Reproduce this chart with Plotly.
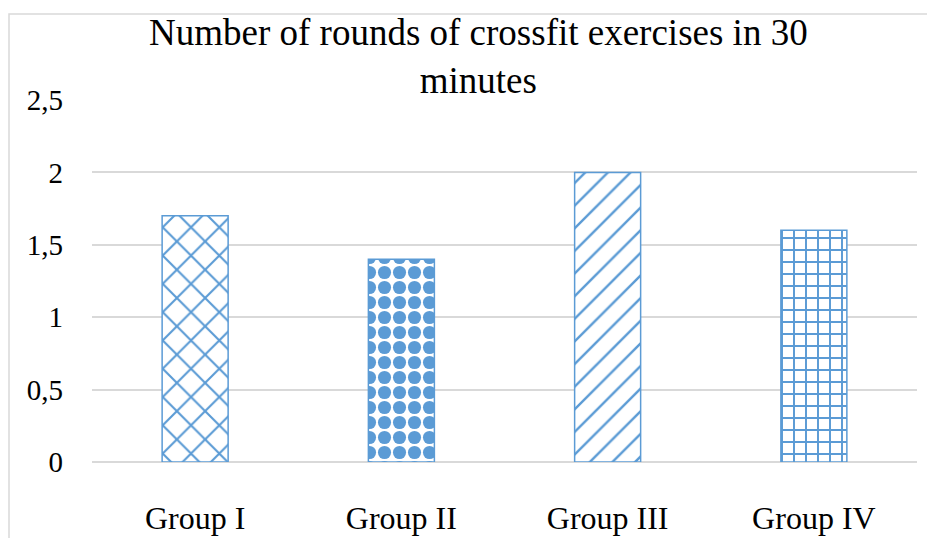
import plotly.graph_objects as go

categories = ["Group I", "Group II", "Group III", "Group IV"]
values = [1.7, 1.4, 2.0, 1.6]
patterns = ["x", ".", "/", "+"]
tick_vals = [0, 0.5, 1, 1.5, 2, 2.5]
tick_text = ["0", "0,5", "1", "1,5", "2", "2,5"]
title_text = "Number of rounds of crossfit exercises in 30<br>minutes"

blue = "#5b9bd5"
font_family = "Liberation Serif, Times New Roman, serif"

fig = go.Figure()
fig.add_trace(go.Bar(
    x=categories,
    y=values,
    width=0.32,
    marker=dict(
        color="white",
        line=dict(color=blue, width=1.5),
        pattern=dict(shape=patterns, fgcolor=blue, bgcolor="white",
                     size=[20, 15, 16, 12], solidity=[0.2, 0.6, 0.15, 0.3],
                     fillmode="replace"),
    ),
))

fig.update_layout(
    width=927, height=530,
    margin=dict(l=84, r=18, t=92, b=76),
    paper_bgcolor="white", plot_bgcolor="white",
    showlegend=False,
    font=dict(family=font_family, color="black"),
    xaxis=dict(
        showgrid=False, showline=False, zeroline=False, automargin=False,
        tickfont=dict(size=32), ticks="", ticklabelstandoff=34,
    ),
    yaxis=dict(
        range=[0, 2.5], tickvals=tick_vals, ticktext=tick_text, automargin=False,
        showgrid=True, gridcolor="#d9d9d9", gridwidth=1.5,
        zeroline=True, zerolinecolor="#d9d9d9", zerolinewidth=1.5,
        showline=False, ticks="", tickfont=dict(size=29), ticklabelstandoff=28,
    ),
    annotations=[dict(
        text=title_text, showarrow=False,
        xref="paper", yref="paper",
        x=(478 - 92) / 825, y=(462 - 10) / 362,
        xanchor="center", yanchor="top",
        font=dict(size=37, family=font_family, color="black"),
    )],
    shapes=[dict(
        type="rect", xref="paper", yref="paper",
        x0=(9 - 92) / 825, x1=(960 - 92) / 825,
        y0=(462 - 560) / 362, y1=(462 - 14) / 362,
        line=dict(color="#d9d9d9", width=1.5), fillcolor="rgba(0,0,0,0)",
        layer="below",
    )],
)

fig.write_html("out.html")
